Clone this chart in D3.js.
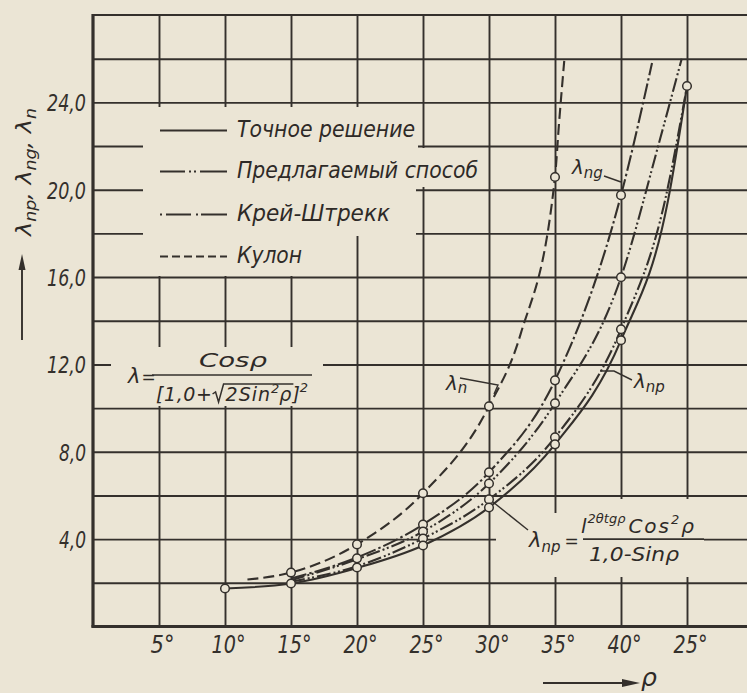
<!DOCTYPE html>
<html><head><meta charset="utf-8">
<script src="https://cdn.jsdelivr.net/npm/d3@7"></script>
<style>
html,body{margin:0;padding:0;background:#ebe5d5;}
svg{display:block;}
text{font-family:"DejaVu Sans",Verdana,sans-serif;font-style:italic;fill:#2e2a27;}
</style></head><body>
<svg id="c" width="747" height="693"></svg>
<script>
// ---- data ----
const gridX=[5,10,15,20,25,30,35,40,45,50];
const gridY=[2,4,6,8,10,12,14,16,18,20,22,24,26];
const xTicks=[5,10,15,20,25,30,35,40,45];
const xTickLabels=["5°","10°","15°","20°","25°","30°","35°","40°","25°"];
const yTicks=[4,8,12,16,20,24];
const yTickLabels=["4,0","8,0","12,0","16,0","20,0","24,0"];
const exact=[[10,1.74],[15,1.97],[20,2.68],[25,3.71],[30,5.45],[35,8.34],[40,13.11],[43.56,19.5],[45,24.75]];
const proposedNp=[[15,2.05],[20,2.76],[25,4.03],[30,5.82],[35,8.66],[40,13.61],[43.33,19.5],[45,24.75]];
const proposedNg=[[15,2.12],[20,3.08],[25,4.35],[30,6.55],[35,10.22],[40,15.99],[42.95,22.3],[44.6,26.0]];
const kreyStrekk=[[15,2.2],[20,3.16],[25,4.67],[30,7.06],[35,11.27],[40,19.75],[42.35,25.8]];
const kulon=[[11.7,2.15],[15,2.47],[20,3.76],[25,6.10],[30,10.08],[32.4,13.4],[35,20.58],[35.3,23.0],[35.7,25.9]];
const circles=[[10,1.74],[15,2.47],[15,1.97],[20,3.76],[20,3.12],[20,2.70],
 [25,6.10],[25,4.67],[25,4.35],[25,4.03],[25,3.71],
 [30,10.08],[30,7.06],[30,6.55],[30,5.82],[30,5.45],
 [35,20.58],[35,11.27],[35,10.22],[35,8.66],[35,8.34],
 [40,19.75],[40,15.99],[40,13.61],[40,13.11],[45,24.75]];
const legendLabels=["Точное решение","Предлагаемый способ","Крей-Штрекк","Кулон"];

// ---- drawing ----
const W=747,H=693;
const ink="#34302c", paper="#ebe5d5";
const svg=d3.select("#c");
const x=d3.scaleLinear().domain([0,45]).range([93,687]);
const y=d3.scaleLinear().domain([0,28]).range([626.5,15]);
const FF='"DejaVu Sans",Verdana,sans-serif';

// grid
const gv=svg.append("g").attr("transform",`translate(0,${y(0)})`)
  .call(d3.axisBottom(x).tickValues(gridX).tickSize(-(y(0)-y(28))).tickFormat(""));
gv.select(".domain").remove();
gv.selectAll("line").attr("stroke",ink).attr("stroke-width",1.9);
const gh=svg.append("g").attr("transform",`translate(${x(0)},0)`)
  .call(d3.axisLeft(y).tickValues(gridY).tickSize(-(W-x(0))).tickFormat(""));
gh.select(".domain").remove();
gh.selectAll("line").attr("stroke",ink).attr("stroke-width",1.9);

// blank areas behind annotations
const blanks=[
 [[143,107],[418,107],[418,148],[482,148],[482,187],[416,187],[416,236],[354,236],[354,276],[143,276]],
 [[111,347],[323,347],[323,406],[111,406]],
 [[496,513],[560,513],[560,499],[704,499],[704,577],[496,577]]
];
svg.append("g").selectAll("path").data(blanks).join("path")
  .attr("d",d=>"M"+d.join("L")+"Z").attr("fill",paper);

// frame
svg.append("line").attr("x1",x(0)-1).attr("x2",W).attr("y1",y(28)).attr("y2",y(28)).attr("stroke",ink).attr("stroke-width",2.2);
svg.append("line").attr("x1",x(0)).attr("x2",x(0)).attr("y1",y(28)-1).attr("y2",y(0)+1).attr("stroke",ink).attr("stroke-width",3.2);
svg.append("line").attr("x1",x(0)-1.5).attr("x2",W).attr("y1",y(0)).attr("y2",y(0)).attr("stroke",ink).attr("stroke-width",3.2);

// tick labels
const ax=svg.append("g").attr("transform",`translate(0,${y(0)})`)
  .call(d3.axisBottom(x).tickValues(xTicks).tickSize(0).tickFormat((d,i)=>xTickLabels[i]));
ax.select(".domain").remove();
ax.selectAll("text").attr("y",26.5).attr("dy",0).style("font-size","24px").style("fill",ink)
  .style("font-family",FF).attr("dx",3)
  .attr("textLength",(d,i)=>xTickLabels[i].length>2?34:24).attr("lengthAdjust","spacingAndGlyphs");
const ay=svg.append("g").attr("transform",`translate(${x(0)},0)`)
  .call(d3.axisLeft(y).tickValues(yTicks).tickSize(0).tickFormat((d,i)=>yTickLabels[i]));
ay.select(".domain").remove();
ay.selectAll("text").attr("x",-7).attr("dy",8.5).style("font-size","23px").style("fill",ink)
  .style("font-family",FF)
  .attr("textLength",(d,i)=>yTickLabels[i].length>3?39:27).attr("lengthAdjust","spacingAndGlyphs");

// curves
const line=d3.line().x(d=>x(d[0])).y(d=>y(d[1])).curve(d3.curveMonotoneX);
const series=[
 {data:exact,dash:null},
 {data:proposedNp,dash:"14,3,2,2.5,2,3"},
 {data:proposedNg,dash:"14,3,2,2.5,2,3"},
 {data:kreyStrekk,dash:"16,3,2.5,3"},
 {data:kulon,dash:"11,5"}
];
svg.append("g").selectAll("path").data(series).join("path")
  .attr("d",d=>line(d.data)).attr("fill","none").attr("stroke",ink).attr("stroke-width",2.1)
  .attr("stroke-dasharray",d=>d.dash);
svg.append("g").selectAll("circle").data(circles).join("circle")
  .attr("cx",d=>x(d[0])).attr("cy",d=>y(d[1])).attr("r",4.3)
  .attr("fill",paper).attr("stroke",ink).attr("stroke-width",1.5);

// legend
const lgBase=[137,178,221,263];
const lgDash=[null,"25,4,2,3,2,4,27","2,4,25,5,2,3,26","8,4"];
const lg=svg.append("g");
legendLabels.forEach((t,i)=>{
  lg.append("line").attr("x1",160).attr("x2",227).attr("y1",lgBase[i]-6.5).attr("y2",lgBase[i]-6.5)
    .attr("stroke",ink).attr("stroke-width",2.2).attr("stroke-dasharray",lgDash[i]);
});
const lgW=[178,241,153,65];
lg.selectAll("text").data(legendLabels).join("text")
  .attr("x",237).attr("y",(d,i)=>lgBase[i]).style("font-size","23px").text(d=>d)
  .attr("textLength",(d,i)=>lgW[i]).attr("lengthAdjust","spacingAndGlyphs");

// helper for sequential text parts
function seq(g,x0,base,parts){
  let cx=x0;
  parts.forEach(p=>{
    const el=g.append("text").attr("x",cx).attr("y",base+(p.dy||0)).style("font-size",p.size+"px").text(p.t);
    if(p.ls) el.style("letter-spacing",p.ls+"px");
    p.x0=cx; cx+=el.node().getComputedTextLength()+(p.gap||0); p.x1=cx;
  });
  return cx;
}

// formula 1
const f1=svg.append("g");
seq(f1,128,383,[{t:"λ",size:21,gap:1},{t:"=",size:17}]);
f1.append("text").attr("x",199).attr("y",367).style("font-size","19px").text("Cosρ")
  .attr("textLength",68).attr("lengthAdjust","spacingAndGlyphs");
f1.append("line").attr("x1",152).attr("x2",312).attr("y1",375).attr("y2",375).attr("stroke",ink).attr("stroke-width",1.7);
{
  const p=[{t:"[1,0+",size:19,gap:13,ls:0.6},{t:"2Sin",size:19,ls:1},{t:"2",size:13,dy:-8},{t:"ρ",size:19,gap:1},{t:"]",size:19},{t:"2",size:13,dy:-9}];
  seq(f1,156,401,p);
  const rx=p[0].x1-13;
  f1.append("path").attr("d",`M${rx},394L${rx+3},392L${rx+6},402L${rx+11},384L${p[3].x1+1},384`)
    .attr("fill","none").attr("stroke",ink).attr("stroke-width",1.5);
}

// formula 2
const f2=svg.append("g");
seq(f2,529,547,[{t:"λ",size:21},{t:"np",size:15,dy:5,gap:4},{t:"=",size:17}]);
f2.append("line").attr("x1",583).attr("x2",704).attr("y1",y(4)).attr("y2",y(4)).attr("stroke",ink).attr("stroke-width",1.9);
seq(f2,581,533,[{t:"l",size:20,gap:1},{t:"2θtgρ",size:13,dy:-10,gap:3},{t:"Cos",size:20,ls:2},{t:"2",size:13,dy:-9,gap:2},{t:"ρ",size:20}]);
f2.append("text").attr("x",589).attr("y",561).style("font-size","20px").text("1,0-Sinρ")
  .attr("textLength",90).attr("lengthAdjust","spacingAndGlyphs");
svg.append("line").attr("x1",493).attr("y1",502).attr("x2",528).attr("y2",530).attr("stroke",ink).attr("stroke-width",1.4);

// curve labels with leaders
const lab=svg.append("g");
seq(lab,446,390,[{t:"λ",size:20},{t:"n",size:15,dy:3}]);
lab.append("path").attr("d","M460,378L498,385L494,394").attr("fill","none").attr("stroke",ink).attr("stroke-width",1.4);
seq(lab,572,174,[{t:"λ",size:20},{t:"ng",size:15,dy:4}]);
lab.append("path").attr("d","M604,176L621,182").attr("fill","none").attr("stroke",ink).attr("stroke-width",1.4);
seq(lab,634,388,[{t:"λ",size:20},{t:"np",size:15,dy:4}]);
lab.append("path").attr("d","M600,371L614,371L632,380").attr("fill","none").attr("stroke",ink).attr("stroke-width",1.4);

// axis titles
const yt=svg.append("text").attr("transform","translate(31,172) rotate(-90)").attr("text-anchor","middle").style("font-size","22px")
  .attr("textLength",128).attr("lengthAdjust","spacingAndGlyphs");
yt.append("tspan").text("λ");
yt.append("tspan").attr("dy",5).style("font-size","16px").text("np");
yt.append("tspan").attr("dy",-5).text(", λ");
yt.append("tspan").attr("dy",5).style("font-size","16px").text("ng");
yt.append("tspan").attr("dy",-5).text(", λ");
yt.append("tspan").attr("dy",5).style("font-size","16px").text("n");
svg.append("line").attr("x1",22).attr("x2",22).attr("y1",340).attr("y2",266).attr("stroke",ink).attr("stroke-width",1.9);
svg.append("path").attr("d","M22,254L18.5,270L25.5,270Z").attr("fill",ink);
svg.append("line").attr("x1",543).attr("x2",626).attr("y1",683).attr("y2",683).attr("stroke",ink).attr("stroke-width",1.9);
svg.append("path").attr("d","M640,683L622,679L622,687Z").attr("fill",ink);
svg.append("text").attr("x",641).attr("y",686).style("font-size","25px").text("ρ");
</script>
</body></html>
